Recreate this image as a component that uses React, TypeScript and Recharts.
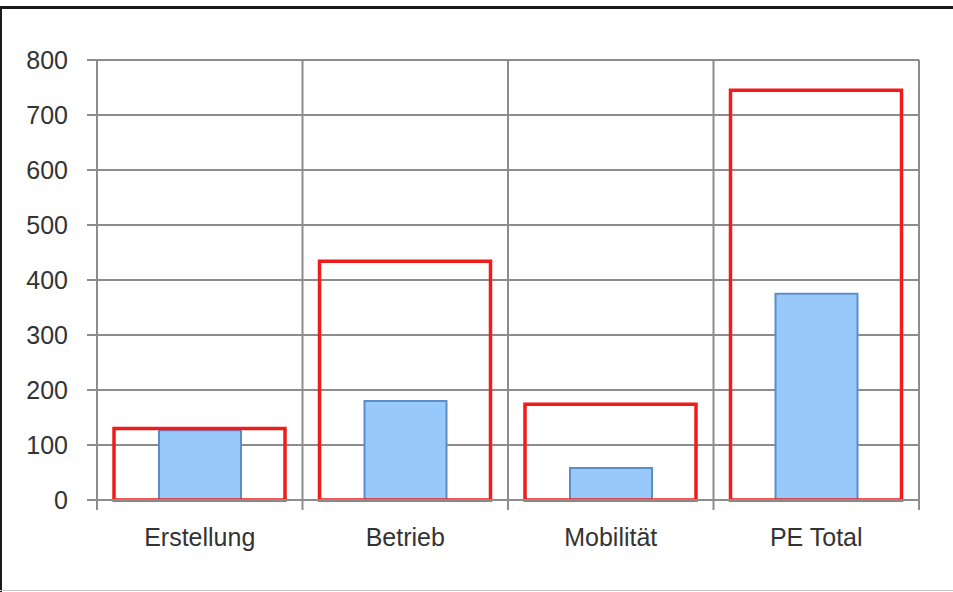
import { BarChart, Bar, XAxis, YAxis, CartesianGrid } from 'recharts';

const categories = ['Erstellung', 'Betrieb', 'Mobilität', 'PE Total'];
const redValues = [130, 434, 174, 745];
const blueValues = [127, 180, 58, 375];
const yTicks = [0, 100, 200, 300, 400, 500, 600, 700, 800];

const data = categories.map((name, i) => ({ name, red: redValues[i], blue: blueValues[i] }));

const W = 953;
const H = 592;
const MARGIN = { top: 60, right: 34, bottom: 32, left: 0 };
const GRID = '#8c8c8c';
const TEXT = '#333333';
const FONT = '"Liberation Sans", Arial, sans-serif';
const LABEL_GAP = 28;

const CategoryTick = (props: any) => {
    const { x, y, payload, index } = props;
    const half = payload?.offset ?? (W - MARGIN.left - MARGIN.right - 97) / 8;
    const axisY = y - LABEL_GAP;
    return (
        <g>
            <line x1={x - half} x2={x - half} y1={axisY} y2={axisY + 10} stroke={GRID} strokeWidth={2} />
            {index === categories.length - 1 && (
                <line x1={x + half} x2={x + half} y1={axisY} y2={axisY + 10} stroke={GRID} strokeWidth={2} />
            )}
            <text x={x} y={y} dy="0.71em" textAnchor="middle" fill={TEXT} fontSize={25} fontFamily={FONT}>
                {payload.value}
            </text>
        </g>
    );
};

export default function App() {
    return (
        <div style={{ position: 'absolute', left: 0, top: 0, width: W, height: H, background: '#fff' }}>
            <div style={{ position: 'absolute', left: 0, top: 6, width: W, height: 3, background: '#1a1a1a' }} />
            <div style={{ position: 'absolute', left: 0, top: 6, width: 2, height: H - 6, background: '#1a1a1a' }} />
            <div style={{ position: 'absolute', left: 0, top: H - 2, width: W, height: 1, background: '#c8c8c8' }} />
            <BarChart width={W} height={H} data={data} margin={MARGIN}>
                <CartesianGrid
                    stroke={GRID}
                    strokeWidth={2}
                    verticalCoordinatesGenerator={({ offset }: any) =>
                        [0, 1, 2, 3, 4].map(i => offset.left + (offset.width * i) / categories.length)
                    }
                />
                <XAxis xAxisId="red" dataKey="name" hide />
                <XAxis
                    xAxisId="blue"
                    dataKey="name"
                    height={60}
                    axisLine={{ stroke: GRID, strokeWidth: 2 }}
                    tickLine={false}
                    tickSize={0}
                    tickMargin={LABEL_GAP}
                    tick={<CategoryTick />}
                    interval={0}
                />
                <YAxis
                    width={97}
                    domain={[0, 800]}
                    ticks={yTicks}
                    axisLine={{ stroke: GRID, strokeWidth: 2 }}
                    tickLine={{ stroke: GRID, strokeWidth: 2 }}
                    tickSize={10}
                    tickMargin={19}
                    tick={{ fill: TEXT, fontSize: 25, fontFamily: FONT }}
                    interval={0}
                />
                <Bar
                    xAxisId="blue"
                    dataKey="blue"
                    barSize={82}
                    fill="#99c9fa"
                    stroke="#5b8dcc"
                    strokeWidth={2}
                    isAnimationActive={false}
                />
                <Bar
                    xAxisId="red"
                    dataKey="red"
                    barSize={171}
                    fill="none"
                    stroke="#f01c1c"
                    strokeWidth={3.5}
                    isAnimationActive={false}
                />
            </BarChart>
        </div>
    );
}
